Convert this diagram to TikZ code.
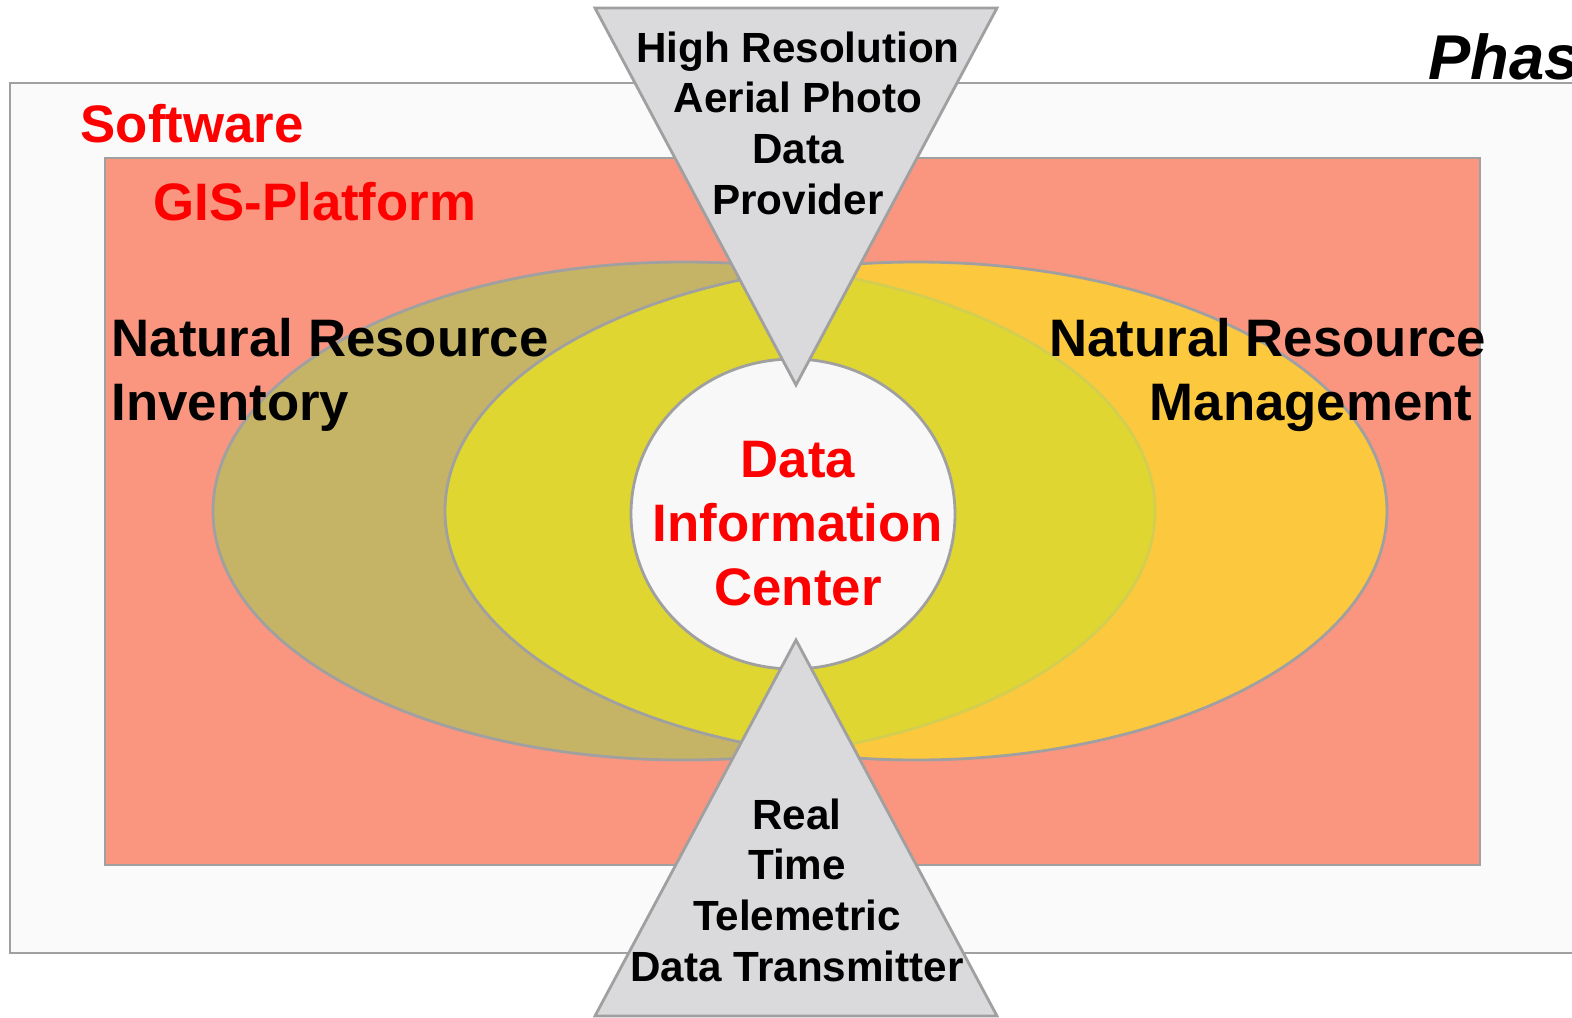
\documentclass[tikz,border=0pt]{standalone}
\usepackage{fontspec}
\setmainfont{Liberation Sans}

\definecolor{edgegray}{RGB}{160,160,160}
\definecolor{boxgray}{RGB}{250,250,250}
\definecolor{salmon}{RGB}{250,150,128}
\definecolor{khaki}{RGB}{198,180,102}
\definecolor{gold}{RGB}{252,200,62}
\definecolor{lensyellow}{RGB}{224,214,50}
\definecolor{lensedge}{RGB}{212,206,80}
\definecolor{trigray}{RGB}{218,218,220}
\definecolor{coregray}{RGB}{248,248,248}

\tikzset{
  frame/.style={draw=edgegray, line width=0.8pt},
  bigtext/.style={font=\bfseries\fontsize{15}{18.2}\selectfont, inner sep=0pt},
  smalltext/.style={font=\bfseries\fontsize{12}{14.4}\selectfont, inner sep=0pt, align=center},
}

\begin{document}
\begin{tikzpicture}[x=0.01cm, y=-0.01cm]
        \path [use as bounding box, clip] (0,0) rectangle (1572,1018);

        % Software frame and title
        \fill [white] (0,0) rectangle (1572,1018);
        \draw [frame, fill=boxgray] (10,83) rectangle (1600,953);
        \node [bigtext, red, anchor=base west] (software) at (80,143) {Software};
        \node [font=\bfseries\itshape\fontsize{18}{21}\selectfont, inner sep=0pt, anchor=base west] (phase) at (1428,80) {Phas};

        % GIS platform
        \draw [frame, fill=salmon] (105,158) rectangle (1480,865);
        \node [bigtext, red, anchor=base west] (gis) at (153,220) {GIS-Platform};

        % Inventory and management ellipses
        \draw [frame, fill=khaki] (684,511) ellipse [x radius=471, y radius=249];
        \fill [gold] (916,511) ellipse [x radius=471, y radius=249];
        \begin{scope}
          \clip (684,511) ellipse [x radius=471, y radius=249];
          \fill [lensyellow] (916,511) ellipse [x radius=471, y radius=249];
        \end{scope}
        \begin{scope}
          \clip (916,511) ellipse [x radius=471, y radius=249];
          \draw [lensedge, line width=0.8pt] (684,511) ellipse [x radius=471, y radius=249];
        \end{scope}
        \draw [frame] (916,511) ellipse [x radius=471, y radius=249];

        \node [bigtext, align=left, anchor=north west] (inventory) at (111,318) {Natural Resource\\Inventory};
        \node [bigtext, align=right, anchor=north east] (management) at (1487,318) {Natural Resource\\Management\hspace*{0.14cm}};

        % Data information center
        \draw [frame, fill=coregray] (793,514) ellipse [x radius=162, y radius=155];
        \node [bigtext, red, align=center, anchor=north] (center) at (798,440) {Data\\Information\\Center};

        % Aerial photo provider (top)
        \draw [frame, fill=trigray] (595,8) -- (997,8) -- (796,385) -- cycle;
        \node [smalltext, anchor=north] (aerial) at (798,31) {High Resolution\\Aerial Photo\\Data\\Provider};

        % Telemetric transmitter (bottom)
        \draw [frame, fill=trigray] (796,640) -- (997,1016) -- (595,1016) -- cycle;
        \node [smalltext, anchor=north] (telemetric) at (797,798) {Real\\Time\\Telemetric\\Data Transmitter};
\end{tikzpicture}
\end{document}
